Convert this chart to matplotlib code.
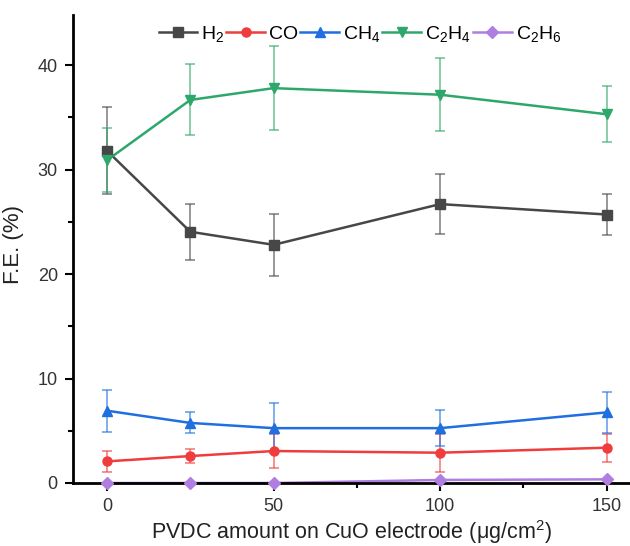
import matplotlib
matplotlib.use('Agg')
import matplotlib.pyplot as plt
from matplotlib.ticker import MultipleLocator
import numpy as np

# Данные
pvdc = [0, 25, 50, 100, 150]

h2 = [31.8, 24.05, 22.8, 26.7, 25.7]
h2_err = [4.15, 2.67, 2.97, 2.9, 1.98]

co = [2.07, 2.58, 3.06, 2.9, 3.38]
co_err = [1.0, 0.7, 1.6, 1.8, 1.35]

ch4 = [6.92, 5.75, 5.25, 5.25, 6.76]
ch4_err = [2.0, 1.0, 2.4, 1.75, 1.95]

c2h4 = [30.9, 36.67, 37.8, 37.17, 35.3]
c2h4_err = [3.05, 3.4, 4.0, 3.47, 2.67]

c2h6 = [0.0, 0.0, 0.0, 0.29, 0.35]
c2h6_err = [0.0, 0.0, 0.0, 0.0, 0.0]

labels = ['H$_2$', 'CO', 'CH$_4$', 'C$_2$H$_4$', 'C$_2$H$_6$']
colors = ['#474747', '#f03c3c', '#1f6fe0', '#2ea86a', '#b07ee0']
markers = ['s', 'o', '^', 'v', 'D']
msizes = [6.5, 6.5, 7, 7.5, 6]

plt.rcParams['font.family'] = ['Liberation Sans', 'DejaVu Sans']
plt.rcParams['mathtext.fontset'] = 'custom'
plt.rcParams['mathtext.rm'] = 'Liberation Sans'
plt.rcParams['mathtext.it'] = 'Liberation Sans:italic'

fig = plt.figure(figsize=(6.3, 5.46), dpi=100)
ax = fig.add_axes([0.116, 0.1154, 0.884, 0.8571])

series = [(h2, h2_err), (co, co_err), (ch4, ch4_err), (c2h4, c2h4_err), (c2h6, c2h6_err)]
for i, (vals, errs) in enumerate(series):
    # Полупрозрачные усы погрешности
    ax.errorbar(pvdc, vals, yerr=errs, fmt='none', ecolor=colors[i], alpha=0.6,
                elinewidth=1.3, capsize=3.5, capthick=1.3, zorder=1, clip_on=False)
    # Линия под осью, маркеры над ней
    ax.plot(pvdc, vals, color=colors[i], lw=1.8, zorder=2, clip_on=False)
    ax.plot(pvdc, vals, color=colors[i], lw=0, marker=markers[i], ms=msizes[i],
            zorder=3, clip_on=False)
    ax.plot([], [], color=colors[i], lw=1.8, marker=markers[i], ms=msizes[i], label=labels[i])

ax.set_xlim(-10.2, 157)
ax.set_ylim(0, 44.8)
ax.xaxis.set_major_locator(MultipleLocator(50))
ax.xaxis.set_minor_locator(MultipleLocator(25))
ax.yaxis.set_major_locator(MultipleLocator(10))
ax.yaxis.set_minor_locator(MultipleLocator(5))

for s in ['top', 'right']:
    ax.spines[s].set_visible(False)
for s in ['left', 'bottom']:
    ax.spines[s].set_linewidth(2.0)
    ax.spines[s].set_zorder(2.5)

ax.tick_params(which='major', direction='out', length=6, width=1.5, labelsize=13,
               labelcolor='#333333', pad=5)
ax.tick_params(which='minor', direction='out', length=3.5, width=1.5)

ax.set_xlabel('PVDC amount on CuO electrode (μg/cm$^2$)', fontsize=15.5, color='#222222')
ax.xaxis.set_label_coords(0.5, -0.074)
ax.set_ylabel('F.E. (%)', fontsize=16, color='#222222')
ax.yaxis.set_label_coords(-0.088, 0.51)

ax.legend(loc='upper center', bbox_to_anchor=(0.515, 0.997), ncol=5, frameon=False,
          fontsize=14, handlelength=2.0, handletextpad=0.2, columnspacing=0.1,
          borderaxespad=0.0)

fig.savefig('out.png', dpi=100)
